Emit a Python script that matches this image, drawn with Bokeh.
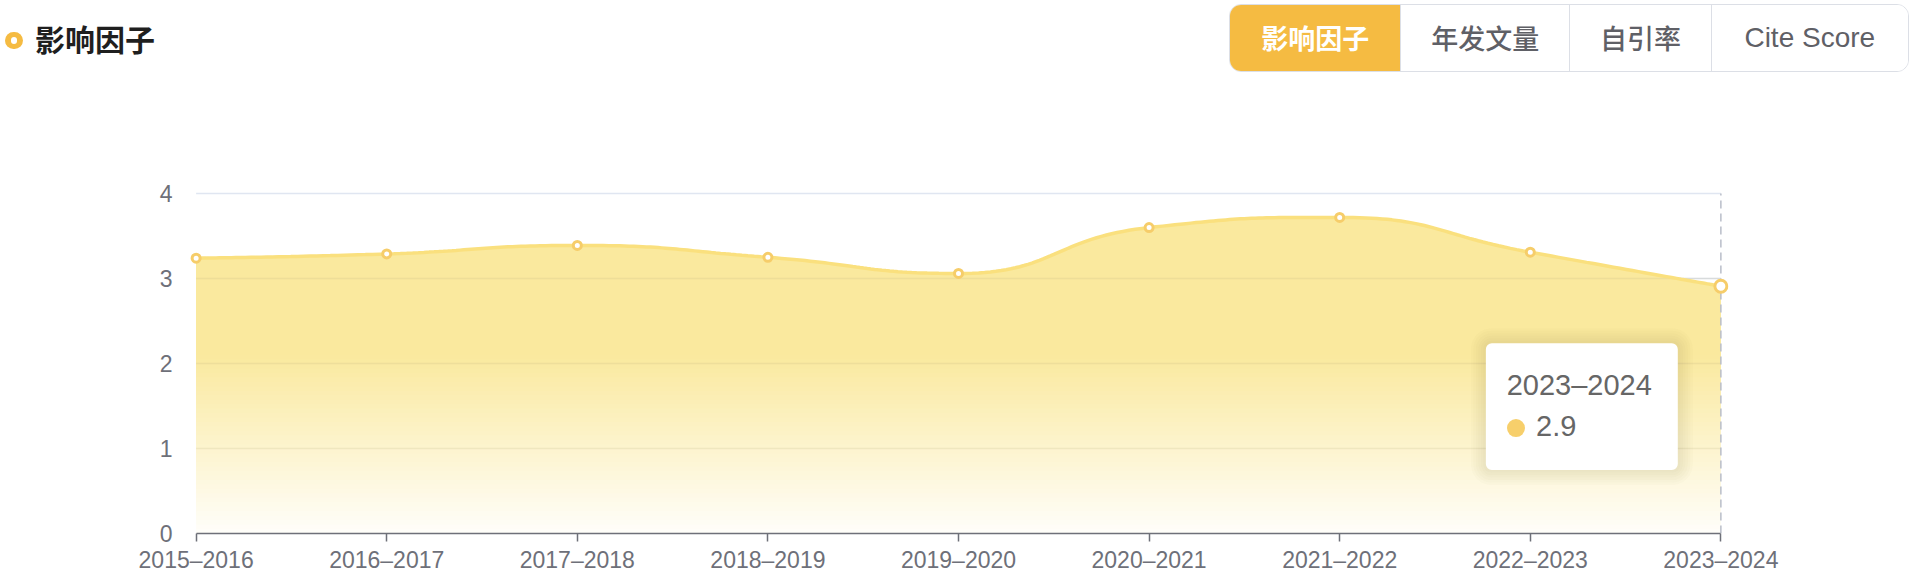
import math
import numpy as np
from bokeh.plotting import figure
from bokeh.models import Range1d, FixedTicker, BoxAnnotation, Label, Div
from bokeh.layouts import column
from bokeh.embed import file_html
from bokeh.resources import INLINE

# ---------------- data ----------------
title_text = "影响因子"
tabs = ["影响因子", "年发文量", "自引率", "Cite Score"]
active_tab = 0
categories = ["2015–2016", "2016–2017", "2017–2018", "2018–2019", "2019–2020",
              "2020–2021", "2021–2022", "2022–2023", "2023–2024"]
values = [3.24, 3.29, 3.39, 3.25, 3.06, 3.60, 3.72, 3.31, 2.91]
y_ticks = [0, 1, 2, 3, 4]

# ---------------- style ----------------
ACCENT = "#F5BB42"
AXIS_C = "#6E7079"
GRID_C = "#E0E6F1"
LINE_C = "#FAE07E"
MARK_C = "#F6CD6A"
AREA_TOP = (250, 233, 158)
FONT_LAT = "Liberation Sans"
FONT_CJK = "Noto Sans CJK SC"

W = 1916
HEAD_H = 80
H = 506
FL, FR, FT, FB = 188, 188, 108, 53
n = len(values)
XPAD, YPAD = 0.04, 0.06
x0, x1 = -XPAD, n - 1 + XPAD
y0, y1 = 0, y_ticks[-1] + YPAD
XS = (W - FL - FR) / (x1 - x0)
YS = (H - FT - FB) / (y1 - y0)

# ---------------- header (HTML) ----------------
btn_edges = [1229, 1399.8, 1569.3, 1711, 1909]
btn_html = ""
for i, t in enumerate(tabs):
    w = btn_edges[i + 1] - btn_edges[i]
    act = i == active_tab
    fam = f"'{FONT_LAT}'" if t.isascii() else f"'{FONT_CJK}'"
    btn_html += (
        f"<div style=\"box-sizing:border-box;width:{w}px;height:100%;display:flex;"
        f"align-items:center;justify-content:center;font-family:{fam};"
        f"font-size:{28 if t.isascii() else 27}px;font-weight:{'bold' if act else '500'};"
        f"color:{'#ffffff' if act else '#5F6066'};background:{ACCENT if act else '#ffffff'};"
        f"{'' if i == 0 else 'border-left:1.5px solid #DCDFE6;'}\">{t}</div>"
    )
header_html = (
    f"<div style=\"position:relative;width:{W}px;height:{HEAD_H}px;margin:0;padding:0;\">"
    f"<div style=\"position:absolute;left:5px;top:31.7px;width:17.6px;height:17.6px;"
    f"border-radius:50%;background:{ACCENT};\"></div>"
    f"<div style=\"position:absolute;left:10.5px;top:37.2px;width:6.6px;height:6.6px;"
    f"border-radius:50%;background:#ffffff;\"></div>"
    f"<div style=\"position:absolute;left:35px;top:23px;font-family:'{FONT_CJK}';font-size:30px;"
    f"line-height:30px;font-weight:bold;color:#1F1F1F;white-space:nowrap;\">{title_text}</div>"
    f"<div style=\"position:absolute;left:{btn_edges[0]}px;top:4px;"
    f"width:{btn_edges[-1] - btn_edges[0]}px;height:67.7px;box-sizing:border-box;"
    f"border:1.5px solid #DCDFE6;border-radius:12px;overflow:hidden;display:flex;\">"
    f"{btn_html}</div></div>"
)
header = Div(text=header_html, width=W, height=HEAD_H, margin=0)

# ---------------- main chart ----------------
p = figure(width=W, height=H, x_range=Range1d(x0, x1), y_range=Range1d(y0, y1),
           output_backend="svg", toolbar_location=None,
           min_border_left=FL, min_border_right=FR, min_border_top=FT, min_border_bottom=FB,
           outline_line_color=None, background_fill_color="white", margin=0)
p.grid.visible = False


def smooth_curve(xs, ys, smooth=0.5, per=40):
    pts = [(x * XS, y * YS) for x, y in zip(xs, ys)]
    N = len(pts)
    cp0 = pts[0]
    out_x, out_y = [pts[0][0]], [pts[0][1]]
    for k in range(1, N):
        px, py = pts[k - 1]
        x, y = pts[k]
        if k == N - 1:
            cp1 = (x, y)
            ncp0 = None
        else:
            nx, ny = pts[k + 1]
            vx, vy = nx - px, ny - py
            lp = math.hypot(x - px, y - py)
            ln = math.hypot(nx - x, ny - y)
            r = ln / (ln + lp)
            ncx = x + vx * smooth * r
            ncy = y + vy * smooth * r
            ncx = max(min(ncx, max(nx, x)), min(nx, x))
            ncy = max(min(ncy, max(ny, y)), min(ny, y))
            vx, vy = ncx - x, ncy - y
            c1x = x - vx * lp / ln
            c1y = y - vy * lp / ln
            c1x = max(min(c1x, max(px, x)), min(px, x))
            c1y = max(min(c1y, max(py, y)), min(py, y))
            vx, vy = x - c1x, y - c1y
            ncp0 = (x + vx * ln / lp, y + vy * ln / lp)
            cp1 = (c1x, c1y)
        t = np.linspace(0, 1, per + 1)[1:]
        a = (1 - t) ** 3
        b = 3 * (1 - t) ** 2 * t
        c = 3 * (1 - t) * t ** 2
        d = t ** 3
        out_x.extend(a * px + b * cp0[0] + c * cp1[0] + d * x)
        out_y.extend(a * py + b * cp0[1] + c * cp1[1] + d * y)
        cp0 = ncp0
    return np.array(out_x) / XS, np.array(out_y) / YS


idx = list(range(n))
cx_, cy_ = smooth_curve(idx, values)

p.segment(x0=[0] * (len(y_ticks) - 1), x1=[n - 1] * (len(y_ticks) - 1),
          y0=y_ticks[1:], y1=y_ticks[1:], line_color=GRID_C, line_width=1.5, level="underlay")

G_TOP = 2.1
NL = 40
edges_y = np.linspace(0, G_TOP, NL + 1)
for k in range(NL + 1):
    lv = edges_y[k]
    mid = min(lv + G_TOP / NL / 2, G_TOP) if k < NL else G_TOP
    f = min(1.0, 0.05 + 0.95 * mid / G_TOP)
    col = tuple(int(round(255 + f * (c - 255))) for c in AREA_TOP)
    p.varea(x=cx_, y1=np.full_like(cx_, lv), y2=np.maximum(cy_, lv),
            fill_color="#%02x%02x%02x" % col, fill_alpha=1)

p.segment(x0=[0] * 3, x1=[n - 1] * 3, y0=y_ticks[1:4], y1=y_ticks[1:4],
          line_color="#B8AE80", line_alpha=0.18, line_width=1.5)

p.segment(x0=[n - 1], x1=[n - 1], y0=[y_ticks[0]], y1=[y_ticks[-1]],
          line_color="#B8BDC8", line_width=1.5, line_dash="8 5")

p.line(cx_, cy_, line_color=LINE_C, line_width=3.5)
p.scatter(x=idx[:-1], y=values[:-1], size=8, fill_color="white", line_color=MARK_C, line_width=3)
p.scatter(x=[idx[-1]], y=[values[-1]], size=12, fill_color="white", line_color=MARK_C, line_width=3)

xa = p.xaxis[0]
xa.ticker = FixedTicker(ticks=idx)
xa.major_label_overrides = {i: c for i, c in enumerate(categories)}
xa.bounds = (0, n - 1)
xa.axis_line_color = AXIS_C
xa.axis_line_width = 1.5
xa.major_tick_line_color = AXIS_C
xa.major_tick_line_width = 1.5
xa.major_tick_out = 8
xa.major_tick_in = 0
xa.minor_tick_line_color = None
xa.major_label_standoff = 5
xa.major_label_text_font = FONT_LAT
xa.major_label_text_font_size = "23px"
xa.major_label_text_color = AXIS_C

ya = p.yaxis[0]
ya.ticker = FixedTicker(ticks=y_ticks)
ya.axis_line_color = None
ya.major_tick_line_color = None
ya.minor_tick_line_color = None
ya.major_label_standoff = 10
ya.major_label_text_font = FONT_LAT
ya.major_label_text_font_size = "23px"
ya.major_label_text_color = AXIS_C

# ---------------- tooltip ----------------
tl, tr, tb, tt = 6.767, 7.774, 0.746, 2.24
for i in range(6, 0, -1):
    g = 2.5 * i
    p.add_layout(BoxAnnotation(left=tl - g / XS, right=tr + g / XS, bottom=tb - g / YS,
                               top=tt + g / YS, fill_color="#7a6a20", fill_alpha=0.02,
                               line_color=None, border_radius=int(round(6 + g))))
p.add_layout(BoxAnnotation(left=tl, right=tr, bottom=tb, top=tt, fill_color="white",
                           fill_alpha=1, line_color=None, border_radius=6))
p.add_layout(Label(x=6.876, y=1.632 + 10 / YS, text=categories[-1], text_font=FONT_LAT,
                   text_font_size="29px", text_color="#666666", text_baseline="alphabetic"))
p.add_layout(BoxAnnotation(left=6.925 - 9 / XS, right=6.925 + 9 / XS, bottom=1.241 - 9 / YS,
                           top=1.241 + 9 / YS, fill_color="#F7CF6B", fill_alpha=1,
                           line_color=None, border_radius=9))
p.add_layout(Label(x=7.03, y=1.149 + 10 / YS, text=f"{values[-1]:.1f}", text_font=FONT_LAT,
                   text_font_size="29px", text_color="#666666", text_baseline="alphabetic"))

layout = column(header, p, spacing=0, margin=0)
open("out.html", "w").write(file_html(layout, INLINE))
